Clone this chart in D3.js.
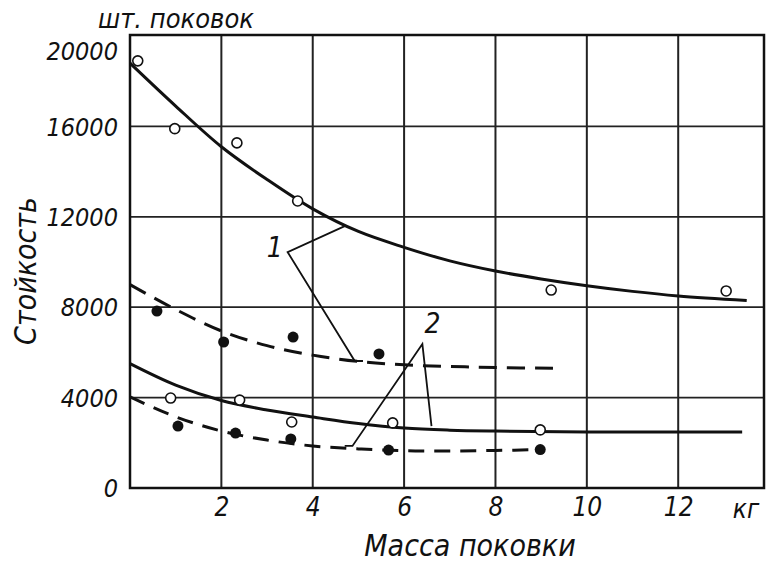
<!DOCTYPE html>
<html>
<head>
<meta charset="utf-8">
<script src="https://cdn.jsdelivr.net/npm/d3@7"></script>
<style>
  body { margin: 0; background: #fff; }
  text { font-family: "Liberation Sans Narrow", "DejaVu Sans Condensed", sans-serif; font-style: italic; fill: #111; }
</style>
</head>
<body>
<div id="chart"></div>
<script>
var width = 766,
    height = 563;

// curve 1 (solid, open circles) and curve 1 (dashed, filled dots)
var curve1Mass = [0, 1, 2, 3, 4, 5, 6, 7, 8, 9, 10, 11, 12, 13.5];
var curve1Life = [18800, 16900, 15100, 13650, 12350, 11350, 10650, 10050, 9600, 9250, 8950, 8700, 8500, 8300];
var dash1Mass = [0, 1, 2, 3, 4, 5, 6, 7, 8, 9.3];
var dash1Life = [9000, 7900, 6950, 6300, 5880, 5600, 5450, 5380, 5330, 5300];

// curve 2 (solid) and curve 2 (dashed)
var curve2Mass = [0, 1, 2, 3, 4, 5, 6, 7, 8, 10, 13.4];
var curve2Life = [5500, 4550, 3870, 3450, 3140, 2850, 2650, 2560, 2520, 2480, 2480];
var dash2Mass = [0, 1, 2, 3, 4, 5, 6, 7, 8, 9];
var dash2Life = [4030, 3150, 2520, 2120, 1860, 1730, 1650, 1640, 1660, 1700];

// measured points
var open1Mass = [0.17, 0.98, 2.34, 3.67, 9.22, 13.05];
var open1Life = [18900, 15900, 15270, 12700, 8760, 8720];
var fill1Mass = [0.59, 2.05, 3.57, 5.45];
var fill1Life = [7830, 6460, 6680, 5930];
var open2Mass = [0.89, 2.4, 3.54, 5.75, 8.98];
var open2Life = [3980, 3890, 2920, 2880, 2570];
var fill2Mass = [1.05, 2.31, 3.52, 5.66, 8.98];
var fill2Life = [2740, 2430, 2170, 1680, 1700];

var xTicks = [2, 4, 6, 8, 10, 12];
var yTicks = [0, 4000, 8000, 12000, 16000, 20000];

// leader lines for labels "1" and "2" (in data units)
var leader1 = [[[4.7, 11590], [3.45, 10440], [4.92, 5620], [5.1, 5620]]];
var leader2 = [[[4.7, 1860], [4.87, 1860], [6.4, 6370], [6.6, 2740]]];

var x = d3.scaleLinear().domain([0, 13.9]).range([130, 765]);
var y = d3.scaleLinear().domain([0, 20000]).range([488, 36]);

var svg = d3.select("#chart").append("svg")
    .attr("width", width)
    .attr("height", height);

function zipPts(a, b) { return a.map(function(d, i) { return [d, b[i]]; }); }

// grid
svg.append("g").selectAll("line")
    .data(xTicks)
    .enter().append("line")
    .attr("x1", function(d) { return x(d); })
    .attr("x2", function(d) { return x(d); })
    .attr("y1", y(20000) - 1)
    .attr("y2", y(0))
    .attr("stroke", "#222")
    .attr("stroke-width", 2);

svg.append("g").selectAll("line")
    .data(yTicks.filter(function(d) { return d > 0 && d < 20000; }))
    .enter().append("line")
    .attr("x1", x(0))
    .attr("x2", x(13.9))
    .attr("y1", function(d) { return y(d); })
    .attr("y2", function(d) { return y(d); })
    .attr("stroke", "#222")
    .attr("stroke-width", 1.8);

// frame
svg.append("rect")
    .attr("x", x(0))
    .attr("y", y(20000) - 1)
    .attr("width", x(13.9) - x(0) - 1)
    .attr("height", y(0) - y(20000) + 1)
    .attr("fill", "none")
    .attr("stroke", "#111")
    .attr("stroke-width", 2.5);

// axes labels
var yAxis = d3.axisLeft(y).tickValues(yTicks).tickSize(0).tickPadding(12)
    .tickFormat(function(d) { return d; });
var gy = svg.append("g").attr("transform", "translate(" + x(0) + ",0)").call(yAxis);
gy.select(".domain").remove();
gy.selectAll("text")
    .attr("font-size", 25)
    .attr("dy", function(d) { return d === 20000 ? "0.95em" : "0.35em"; })
    .style("font-family", null);

var xAxis = d3.axisBottom(x).tickValues(xTicks).tickSize(0).tickPadding(10);
var gx = svg.append("g").attr("transform", "translate(0," + y(0) + ")").call(xAxis);
gx.select(".domain").remove();
gx.selectAll("text")
    .attr("font-size", 26)
    .style("font-family", null);

svg.append("text")
    .attr("x", 746).attr("y", 518)
    .attr("text-anchor", "middle")
    .attr("font-size", 26)
    .text("кг");

svg.append("text")
    .attr("x", 470).attr("y", 556)
    .attr("text-anchor", "middle")
    .attr("font-size", 30)
    .text("Масса поковки");

svg.append("text")
    .attr("x", 98).attr("y", 28)
    .attr("font-size", 27)
    .text("шт. поковок");

svg.append("text")
    .attr("transform", "translate(36,271) rotate(-90)")
    .attr("text-anchor", "middle")
    .attr("font-size", 30)
    .text("Стойкость");

// curves
var line = d3.line()
    .x(function(d) { return x(d[0]); })
    .y(function(d) { return y(d[1]); })
    .curve(d3.curveCatmullRom.alpha(0.5));

var curves = [
  { pts: zipPts(curve1Mass, curve1Life), dash: null },
  { pts: zipPts(dash1Mass, dash1Life), dash: "18,10" },
  { pts: zipPts(curve2Mass, curve2Life), dash: null },
  { pts: zipPts(dash2Mass, dash2Life), dash: "16,10" }
];

svg.append("g").selectAll("path")
    .data(curves)
    .enter().append("path")
    .attr("d", function(d) { return line(d.pts); })
    .attr("fill", "none")
    .attr("stroke", "#111")
    .attr("stroke-width", 3)
    .attr("stroke-dasharray", function(d) { return d.dash; });

// leader lines
var straight = d3.line()
    .x(function(d) { return x(d[0]); })
    .y(function(d) { return y(d[1]); });

svg.append("g").selectAll("path")
    .data(leader1.concat(leader2))
    .enter().append("path")
    .attr("d", straight)
    .attr("fill", "none")
    .attr("stroke", "#111")
    .attr("stroke-width", 1.8);

svg.append("text")
    .attr("x", x(3.17)).attr("y", y(10660) + 10)
    .attr("text-anchor", "middle")
    .attr("font-size", 28)
    .text("1");

svg.append("text")
    .attr("x", x(6.62)).attr("y", y(7300) + 10)
    .attr("text-anchor", "middle")
    .attr("font-size", 28)
    .text("2");

// points
var openPts = zipPts(open1Mass, open1Life).concat(zipPts(open2Mass, open2Life));
var fillPts = zipPts(fill1Mass, fill1Life).concat(zipPts(fill2Mass, fill2Life));

svg.append("g").selectAll("circle")
    .data(openPts)
    .enter().append("circle")
    .attr("cx", function(d) { return x(d[0]); })
    .attr("cy", function(d) { return y(d[1]); })
    .attr("r", 5)
    .attr("fill", "#fff")
    .attr("stroke", "#111")
    .attr("stroke-width", 1.6);

svg.append("g").selectAll("circle")
    .data(fillPts)
    .enter().append("circle")
    .attr("cx", function(d) { return x(d[0]); })
    .attr("cy", function(d) { return y(d[1]); })
    .attr("r", 5.5)
    .attr("fill", "#111");
</script>
</body>
</html>
